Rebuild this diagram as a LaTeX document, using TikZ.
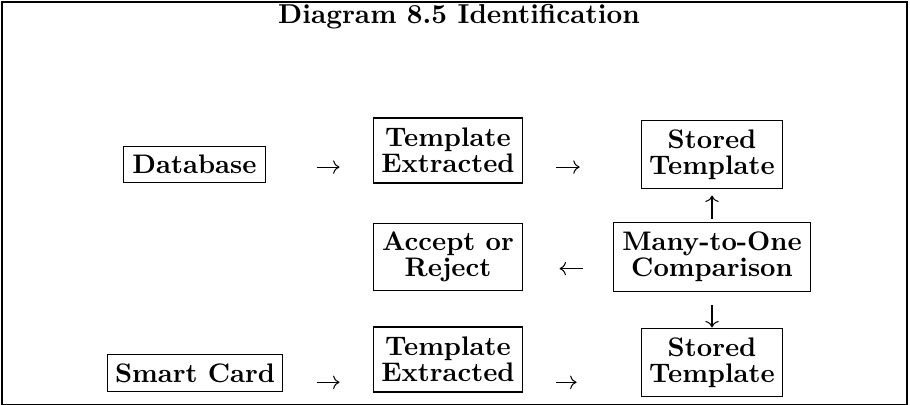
\documentclass[tikz,border=0pt]{standalone}
\usepackage{tikz}
\usetikzlibrary{
arrows.meta,
positioning,
calc
}
\tikzset{
idblock/.style={draw=black, line width=0.4pt, align=center,
  font=\fontsize{10.4}{10}\selectfont\bfseries,
  inner xsep=2pt, inner ysep=2pt, minimum height=14.2pt},
idblocktwo/.style={idblock, minimum height=26pt},
idarrow/.style={-{Computer Modern Rightarrow}, line width=0.4pt, draw=black},
idtitle/.style={font=\fontsize{10.6}{12}\selectfont\bfseries, inner sep=0pt}
}

\begin{document}
\begin{tikzpicture}[x=0.3876pt, y=-0.3876pt]
\useasboundingbox (0,0) rectangle (910,405);
\draw[line width=0.5pt] (2,2) rectangle (907,404.5);
\node[idtitle] (title) at (459,17) {Diagram 8.5 Identification};

\node[idblock, minimum width=54.7pt] (db) at (194.5,164.5) {Database};
\node[idblocktwo, minimum width=58.1pt, minimum height=25.2pt] (tmplA) at (448,150.5) {Template\\Extracted};
\node[idblocktwo, minimum width=55pt] (storeA) at (712,154.5) {Stored\\Template};
\node[idblocktwo, minimum width=58.1pt] (accept) at (448,257) {Accept or\\Reject};
\node[idblocktwo, minimum width=76.4pt, minimum height=27pt] (many) at (712,257) {Many-to-One\\Comparison};
\node[idblock, minimum width=68.2pt, minimum height=14pt] (smart) at (195,373) {Smart Card};
\node[idblocktwo, minimum width=58.1pt, minimum height=25.2pt] (tmplB) at (448,359.5) {Template\\Extracted};
\node[idblocktwo, minimum width=55pt] (storeB) at (712,362.5) {Stored\\Template};

\draw[idarrow, shorten <=19.8pt, shorten >=12.8pt] ([yshift=-1pt]db.east) -- ([yshift=-1pt]db.east -| tmplA.west);
\draw[idarrow, shorten <=12.8pt, shorten >=23.6pt] ([yshift=-1pt]tmplA.east |- db) -- ([yshift=-1pt]storeA.west |- db);
\draw[idarrow, shorten <=1.2pt, shorten >=2.7pt] (many.north) -- (storeA.south);
\draw[idarrow, shorten <=11.6pt, shorten >=14pt] ([yshift=-4.5pt]many.west) -- ([yshift=-4.5pt]accept.east);
\draw[idarrow, shorten <=5pt, shorten >=0.4pt] (many.south) -- (storeB.north);
\draw[idarrow, shorten <=12.8pt, shorten >=12.8pt] ([yshift=-3.6pt]smart.east) -- ([yshift=-3.6pt]smart.east -| tmplB.west);
\draw[idarrow, shorten <=12.8pt, shorten >=24.8pt] ([yshift=-3.6pt]tmplB.east |- smart) -- ([yshift=-3.6pt]storeB.west |- smart);
\end{tikzpicture}
\end{document}
